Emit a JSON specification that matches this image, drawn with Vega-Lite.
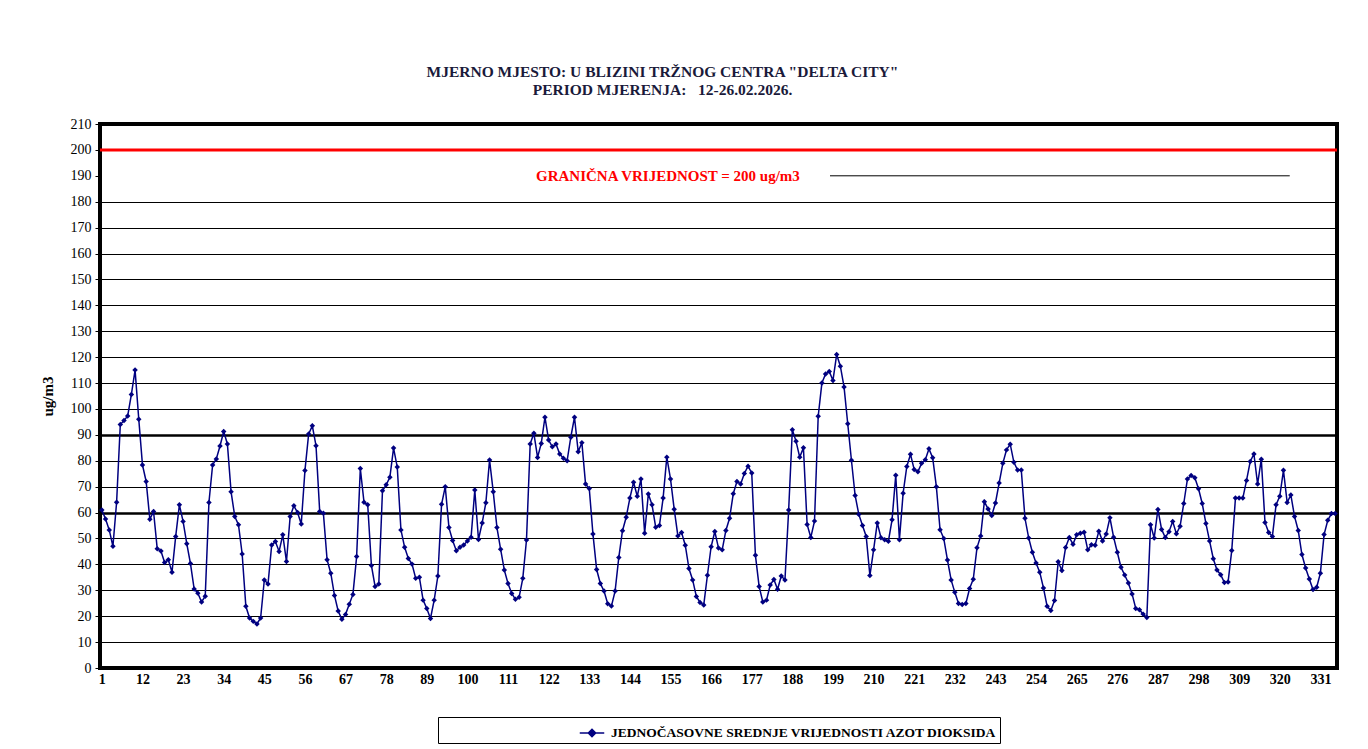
{
  "$schema": "https://vega.github.io/schema/vega-lite/v6.json",
  "width": 1237,
  "height": 544,
  "autosize": "none",
  "padding": {"left": 100, "top": 124, "right": 31, "bottom": 81},
  "background": "white",
  "config": {
    "view": {"stroke": "black", "strokeWidth": 4},
    "font": "Liberation Serif"
  },
  "title": {
    "text": ["MJERNO MJESTO: U BLIZINI TRŽNOG CENTRA \"DELTA CITY\"", "PERIOD MJERENJA:\u00a0\u00a0\u00a012-26.02.2026."],
    "font": "Liberation Serif",
    "fontSize": 15.5,
    "fontWeight": "bold",
    "color": "#1a1a3a",
    "anchor": "middle",
    "frame": "group",
    "dx": -56,
    "offset": 19,
    "lineHeight": 18
  },
  "layer": [
    {
      "data": {"values": [
        {"h":1,"v":61},{"h":2,"v":57.5},{"h":3,"v":53.3},{"h":4,"v":47},{"h":5,"v":64},{"h":6,"v":94},{"h":7,"v":95.5},{"h":8,"v":97.3},{"h":9,"v":105.6},{"h":10,"v":115},
        {"h":11,"v":96},{"h":12,"v":78.4},{"h":13,"v":72},{"h":14,"v":57.4},{"h":15,"v":60.4},{"h":16,"v":46},{"h":17,"v":45.2},{"h":18,"v":40.7},{"h":19,"v":41.8},{"h":20,"v":37},
        {"h":21,"v":50.8},{"h":22,"v":63},{"h":23,"v":56.6},{"h":24,"v":48},{"h":25,"v":40.3},{"h":26,"v":30.5},{"h":27,"v":28.9},{"h":28,"v":25.5},{"h":29,"v":27.7},{"h":30,"v":63.9},
        {"h":31,"v":78.4},{"h":32,"v":80.7},{"h":33,"v":85.7},{"h":34,"v":91.3},{"h":35,"v":86.5},{"h":36,"v":68},{"h":37,"v":58.5},{"h":38,"v":55.3},{"h":39,"v":44},{"h":40,"v":23.8},
        {"h":41,"v":19.3},{"h":42,"v":18},{"h":43,"v":17},{"h":44,"v":19.3},{"h":45,"v":34},{"h":46,"v":32.4},{"h":47,"v":47.5},{"h":48,"v":48.8},{"h":49,"v":45},{"h":50,"v":51.4},
        {"h":51,"v":41.1},{"h":52,"v":58.5},{"h":53,"v":62.6},{"h":54,"v":60},{"h":55,"v":55.6},{"h":56,"v":76.2},{"h":57,"v":90.3},{"h":58,"v":93.5},{"h":59,"v":85.8},{"h":60,"v":60.4},
        {"h":61,"v":59.7},{"h":62,"v":41.8},{"h":63,"v":36.6},{"h":64,"v":28},{"h":65,"v":22},{"h":66,"v":18.8},{"h":67,"v":20.7},{"h":68,"v":24.6},{"h":69,"v":28.4},{"h":70,"v":43},
        {"h":71,"v":77},{"h":72,"v":64},{"h":73,"v":63},{"h":74,"v":39.6},{"h":75,"v":31.5},{"h":76,"v":32.4},{"h":77,"v":68.4},{"h":78,"v":70.7},{"h":79,"v":73.6},{"h":80,"v":84.9},
        {"h":81,"v":77.6},{"h":82,"v":53.3},{"h":83,"v":46.6},{"h":84,"v":42.3},{"h":85,"v":40.1},{"h":86,"v":34.6},{"h":87,"v":35},{"h":88,"v":26.2},{"h":89,"v":23},{"h":90,"v":19.1},
        {"h":91,"v":26.2},{"h":92,"v":35.5},{"h":93,"v":63.2},{"h":94,"v":70},{"h":95,"v":54.2},{"h":96,"v":49.2},{"h":97,"v":45.3},{"h":98,"v":46.6},{"h":99,"v":47.5},{"h":100,"v":49},
        {"h":101,"v":50.5},{"h":102,"v":68.7},{"h":103,"v":49.6},{"h":104,"v":56},{"h":105,"v":63.8},{"h":106,"v":80.3},{"h":107,"v":68},{"h":108,"v":54.2},{"h":109,"v":45.8},{"h":110,"v":37.8},
        {"h":111,"v":32.6},{"h":112,"v":28.8},{"h":113,"v":26.5},{"h":114,"v":27.3},{"h":115,"v":34.6},{"h":116,"v":49.4},{"h":117,"v":86.5},{"h":118,"v":90.6},{"h":119,"v":81.3},{"h":120,"v":86.7},
        {"h":121,"v":96.8},{"h":122,"v":88},{"h":123,"v":85.4},{"h":124,"v":86.5},{"h":125,"v":82.6},{"h":126,"v":81},{"h":127,"v":80},{"h":128,"v":89.1},{"h":129,"v":96.8},{"h":130,"v":83.5},
        {"h":131,"v":87},{"h":132,"v":71},{"h":133,"v":69.3},{"h":134,"v":51.7},{"h":135,"v":38},{"h":136,"v":32.6},{"h":137,"v":29.7},{"h":138,"v":24.8},{"h":139,"v":23.9},{"h":140,"v":29.7},
        {"h":141,"v":42.7},{"h":142,"v":53},{"h":143,"v":58.2},{"h":144,"v":65.6},{"h":145,"v":71.7},{"h":146,"v":66.3},{"h":147,"v":73},{"h":148,"v":52},{"h":149,"v":67.2},{"h":150,"v":63},
        {"h":151,"v":54.3},{"h":152,"v":55},{"h":153,"v":65.6},{"h":154,"v":81.4},{"h":155,"v":73},{"h":156,"v":61.3},{"h":157,"v":51},{"h":158,"v":52.3},{"h":159,"v":47.4},{"h":160,"v":38.4},
        {"h":161,"v":34},{"h":162,"v":27.6},{"h":163,"v":25.3},{"h":164,"v":24.3},{"h":165,"v":35.8},{"h":166,"v":46.8},{"h":167,"v":52.7},{"h":168,"v":46.3},{"h":169,"v":45.6},{"h":170,"v":53.1},
        {"h":171,"v":57.8},{"h":172,"v":67.3},{"h":173,"v":72},{"h":174,"v":71},{"h":175,"v":75.1},{"h":176,"v":77.9},{"h":177,"v":75.3},{"h":178,"v":43.5},{"h":179,"v":31.5},{"h":180,"v":25.5},
        {"h":181,"v":26.2},{"h":182,"v":32},{"h":183,"v":34.2},{"h":184,"v":30.4},{"h":185,"v":35.5},{"h":186,"v":34},{"h":187,"v":61},{"h":188,"v":92},{"h":189,"v":87.5},{"h":190,"v":81.4},
        {"h":191,"v":85},{"h":192,"v":55.4},{"h":193,"v":50.4},{"h":194,"v":56.7},{"h":195,"v":97.2},{"h":196,"v":110},{"h":197,"v":113.5},{"h":198,"v":114.5},{"h":199,"v":111},{"h":200,"v":121},
        {"h":201,"v":116.5},{"h":202,"v":108.5},{"h":203,"v":94.3},{"h":204,"v":80.2},{"h":205,"v":66.6},{"h":206,"v":59.3},{"h":207,"v":55},{"h":208,"v":50.8},{"h":209,"v":35.7},{"h":210,"v":45.6},
        {"h":211,"v":56},{"h":212,"v":50.3},{"h":213,"v":49.5},{"h":214,"v":48.9},{"h":215,"v":57.2},{"h":216,"v":74.4},{"h":217,"v":49.5},{"h":218,"v":67.5},{"h":219,"v":77.8},{"h":220,"v":82.5},
        {"h":221,"v":76.6},{"h":222,"v":75.8},{"h":223,"v":79},{"h":224,"v":80.4},{"h":225,"v":84.6},{"h":226,"v":81.2},{"h":227,"v":70},{"h":228,"v":53.4},{"h":229,"v":50},{"h":230,"v":41.7},
        {"h":231,"v":34},{"h":232,"v":29.2},{"h":233,"v":24.9},{"h":234,"v":24.5},{"h":235,"v":24.9},{"h":236,"v":30.7},{"h":237,"v":34.3},{"h":238,"v":46.4},{"h":239,"v":51},{"h":240,"v":64.2},
        {"h":241,"v":61.4},{"h":242,"v":58.9},{"h":243,"v":63.7},{"h":244,"v":71.4},{"h":245,"v":79},{"h":246,"v":84.2},{"h":247,"v":86.4},{"h":248,"v":79.4},{"h":249,"v":76.4},{"h":250,"v":76.4},
        {"h":251,"v":57.8},{"h":252,"v":50.2},{"h":253,"v":44.7},{"h":254,"v":40.5},{"h":255,"v":37},{"h":256,"v":30.9},{"h":257,"v":23.8},{"h":258,"v":22.2},{"h":259,"v":26.1},{"h":260,"v":41},
        {"h":261,"v":37.6},{"h":262,"v":46.5},{"h":263,"v":50.4},{"h":264,"v":47.8},{"h":265,"v":51.4},{"h":266,"v":52},{"h":267,"v":52.4},{"h":268,"v":45.6},{"h":269,"v":47.6},{"h":270,"v":47.4},
        {"h":271,"v":52.8},{"h":272,"v":49},{"h":273,"v":51.7},{"h":274,"v":58},{"h":275,"v":50.5},{"h":276,"v":44.7},{"h":277,"v":38.9},{"h":278,"v":35.9},{"h":279,"v":32.8},{"h":280,"v":28.6},
        {"h":281,"v":23},{"h":282,"v":22.5},{"h":283,"v":20.8},{"h":284,"v":19.5},{"h":285,"v":55.3},{"h":286,"v":50.2},{"h":287,"v":61.2},{"h":288,"v":53.5},{"h":289,"v":50.4},{"h":290,"v":52.6},
        {"h":291,"v":56.6},{"h":292,"v":51.8},{"h":293,"v":54.7},{"h":294,"v":63.5},{"h":295,"v":73},{"h":296,"v":74.3},{"h":297,"v":73.4},{"h":298,"v":69.2},{"h":299,"v":63.5},{"h":300,"v":55.8},
        {"h":301,"v":49},{"h":302,"v":42.2},{"h":303,"v":37.8},{"h":304,"v":36},{"h":305,"v":33},{"h":306,"v":33.2},{"h":307,"v":45.4},{"h":308,"v":65.6},{"h":309,"v":65.6},{"h":310,"v":65.6},
        {"h":311,"v":72.4},{"h":312,"v":79.7},{"h":313,"v":82.6},{"h":314,"v":71},{"h":315,"v":80.6},{"h":316,"v":56.2},{"h":317,"v":52.3},{"h":318,"v":50.8},{"h":319,"v":63},{"h":320,"v":66.3},
        {"h":321,"v":76.3},{"h":322,"v":63.9},{"h":323,"v":66.8},{"h":324,"v":58.5},{"h":325,"v":53.1},{"h":326,"v":43.8},{"h":327,"v":38.6},{"h":328,"v":34.4},{"h":329,"v":30.3},{"h":330,"v":31.2},
        {"h":331,"v":36.6},{"h":332,"v":51.5},{"h":333,"v":57},{"h":334,"v":59.6},{"h":335,"v":59.6}
      ]},
      "mark": {
        "type": "line",
        "strokeWidth": 1.5,
        "point": {"shape": "diamond", "size": 30, "filled": true}
      },
      "encoding": {
        "x": {
          "field": "h",
          "type": "quantitative",
          "scale": {"domain": [0.5, 335.5], "nice": false, "zero": false},
          "axis": {
            "values": [1,12,23,34,45,56,67,78,89,100,111,122,133,144,155,166,177,188,199,210,221,232,243,254,265,276,287,298,309,320,331],
            "title": null,
            "grid": false,
            "domain": false,
            "ticks": false,
            "labelFont": "Liberation Serif",
            "labelFontSize": 14,
            "labelFontWeight": "bold",
            "labelColor": "black",
            "labelPadding": 4,
            "labelOverlap": false
          }
        },
        "y": {
          "field": "v",
          "type": "quantitative",
          "scale": {"domain": [0, 210], "nice": false},
          "axis": {
            "values": [0,10,20,30,40,50,60,70,80,90,100,110,120,130,140,150,160,170,180,190,200,210],
            "title": "ug/m3",
            "titleFont": "Liberation Serif",
            "titleFontSize": 15,
            "titleFontWeight": "bold",
            "titleColor": "black",
            "titlePadding": 15,
            "labelFont": "Liberation Serif",
            "labelFontSize": 14,
            "labelColor": "black",
            "labelPadding": 4,
            "labelOverlap": false,
            "grid": true,
            "gridColor": "black",
            "gridOpacity": {"condition": {"test": "datum.value === 190", "value": 0}, "value": 1},
            "gridWidth": {"condition": {"test": "datum.value === 60 || datum.value === 90", "value": 2.5}, "value": 1},
            "domain": false,
            "ticks": true,
            "tickColor": "black",
            "tickSize": 5
          }
        },
        "color": {
          "datum": "JEDNOČASOVNE SREDNJE VRIJEDNOSTI AZOT DIOKSIDA",
          "scale": {"range": ["#000080"]},
          "legend": {
            "title": null,
            "orient": "none",
            "legendX": 338,
            "legendY": 593,
            "strokeColor": "black",
            "padding": 3,
            "symbolOffset": 138,
            "symbolType": "M-1,0H1M-0.3,0L0,-0.3L0.3,0L0,0.3Z",
            "symbolSize": 600,
            "symbolStrokeWidth": 1.5,
            "symbolFillColor": "#000080",
            "labelFont": "Liberation Serif",
            "labelFontSize": 13.5,
            "labelFontWeight": "bold",
            "labelColor": "black",
            "labelOffset": 6,
            "labelLimit": 0
          }
        }
      }
    },
    {
      "data": {"values": [{}]},
      "mark": {"type": "rule", "color": "#ff0000", "strokeWidth": 3},
      "encoding": {
        "y": {
          "datum": 200,
          "scale": {"domain": [0, 210], "nice": false},
          "axis": {
            "values": [0,10,20,30,40,50,60,70,80,90,100,110,120,130,140,150,160,170,180,190,200,210],
            "title": "ug/m3",
            "grid": true
          }
        }
      }
    },
    {
      "data": {"values": [{}]},
      "mark": {"type": "rule", "color": "black", "strokeWidth": 1},
      "encoding": {
        "x": {
          "datum": 198.2,
          "scale": {"domain": [0.5, 335.5], "nice": false, "zero": false},
          "axis": {
            "values": [1,12,23,34,45,56,67,78,89,100,111,122,133,144,155,166,177,188,199,210,221,232,243,254,265,276,287,298,309,320,331],
            "title": null
          }
        },
        "x2": {"datum": 322.7},
        "y": {
          "datum": 190,
          "scale": {"domain": [0, 210], "nice": false},
          "axis": {
            "values": [0,10,20,30,40,50,60,70,80,90,100,110,120,130,140,150,160,170,180,190,200,210],
            "title": "ug/m3",
            "grid": true
          }
        }
      }
    },
    {
      "data": {"values": [{}]},
      "mark": {"type": "text", "color": "#ff0000", "font": "Liberation Serif", "fontSize": 15, "fontWeight": "bold", "align": "center", "baseline": "middle"},
      "encoding": {
        "x": {
          "datum": 154.3,
          "scale": {"domain": [0.5, 335.5], "nice": false, "zero": false},
          "axis": {
            "values": [1,12,23,34,45,56,67,78,89,100,111,122,133,144,155,166,177,188,199,210,221,232,243,254,265,276,287,298,309,320,331],
            "title": null
          }
        },
        "y": {
          "datum": 190,
          "scale": {"domain": [0, 210], "nice": false},
          "axis": {
            "values": [0,10,20,30,40,50,60,70,80,90,100,110,120,130,140,150,160,170,180,190,200,210],
            "title": "ug/m3",
            "grid": true
          }
        },
        "text": {"value": "GRANIČNA VRIJEDNOST = 200 ug/m3"}
      }
    }
  ]
}
